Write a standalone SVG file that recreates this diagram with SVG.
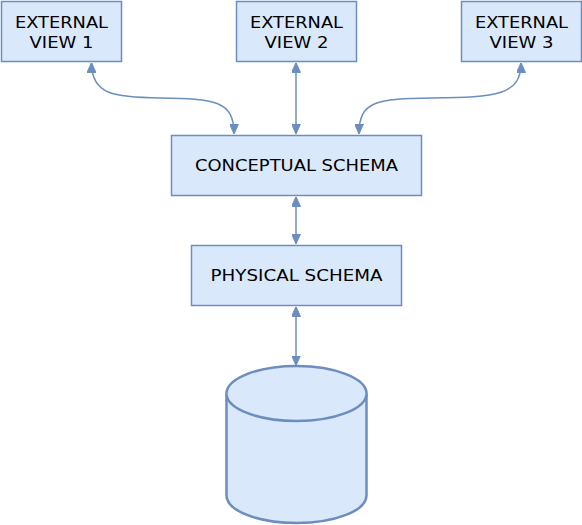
<svg xmlns="http://www.w3.org/2000/svg" width="582" height="525" viewBox="0 0 582 525">
<defs>
<style>
.box{fill:#dae8fc;stroke:#6c8ebf;stroke-width:1.5}
.cyl{fill:#dae8fc;stroke:#6c8ebf;stroke-width:2.5}
.t{font-family:"DejaVu Sans",Verdana,sans-serif;font-size:15px;fill:#000;text-anchor:middle}
.e{fill:none;stroke:#6c8ebf;stroke-width:1.5}
</style>
<marker id="a" viewBox="0 0 10 10" refX="9.5" refY="5" markerWidth="10" markerHeight="9" markerUnits="userSpaceOnUse" orient="auto-start-reverse" preserveAspectRatio="none">
<path d="M0,0 L10,5 L0,10 Z" fill="#6c8ebf" stroke="#6c8ebf" stroke-width="1"/>
</marker>
</defs>
<rect width="582" height="525" fill="#fff"/>
<g id="connectors">
<path class="e" d="M91.5,63 C91.5,95 115,97.5 160,98 C215,98.5 234,101 234,133.5" marker-start="url(#a)" marker-end="url(#a)"/>
<path class="e" d="M296,63 L296,133.5" marker-start="url(#a)" marker-end="url(#a)"/>
<path class="e" d="M521,63 C521,95 497,97.5 432,98 C377,98.5 359,101 359,133.5" marker-start="url(#a)" marker-end="url(#a)"/>
<path class="e" d="M296,197 L296,243.5" marker-start="url(#a)" marker-end="url(#a)"/>
<path class="e" d="M296,307 L296,365" marker-start="url(#a)" marker-end="url(#a)"/>
</g>
<g id="ext1">
<rect class="box" x="1.5" y="1.5" width="120" height="60"/>
<text class="t" x="61.5" y="28.3" textLength="93" lengthAdjust="spacingAndGlyphs">EXTERNAL</text>
<text class="t" x="61.5" y="48.3" textLength="64" lengthAdjust="spacingAndGlyphs">VIEW 1</text>
</g>
<g id="ext2">
<rect class="box" x="236.5" y="1.5" width="120" height="60"/>
<text class="t" x="296.5" y="28.3" textLength="93" lengthAdjust="spacingAndGlyphs">EXTERNAL</text>
<text class="t" x="296.5" y="48.3" textLength="64" lengthAdjust="spacingAndGlyphs">VIEW 2</text>
</g>
<g id="ext3">
<rect class="box" x="461.5" y="1.5" width="120" height="60"/>
<text class="t" x="521.5" y="28.3" textLength="93" lengthAdjust="spacingAndGlyphs">EXTERNAL</text>
<text class="t" x="521.5" y="48.3" textLength="64" lengthAdjust="spacingAndGlyphs">VIEW 3</text>
</g>
<g id="conceptual">
<rect class="box" x="171.5" y="135.5" width="250" height="60"/>
<text class="t" x="296.5" y="170.8" textLength="203" lengthAdjust="spacingAndGlyphs">CONCEPTUAL SCHEMA</text>
</g>
<g id="physical">
<rect class="box" x="191.5" y="245.5" width="210" height="60"/>
<text class="t" x="296.5" y="280.8" textLength="172" lengthAdjust="spacingAndGlyphs">PHYSICAL SCHEMA</text>
</g>
<g id="database">
<path class="cyl" d="M226.5,393.5 A70,27.5 0 0 1 366.5,393.5 L366.5,495.5 A70,27.5 0 0 1 226.5,495.5 Z"/>
<path class="cyl" fill="none" d="M226.5,393.5 A70,27.5 0 0 0 366.5,393.5"/>
</g>
</svg>
